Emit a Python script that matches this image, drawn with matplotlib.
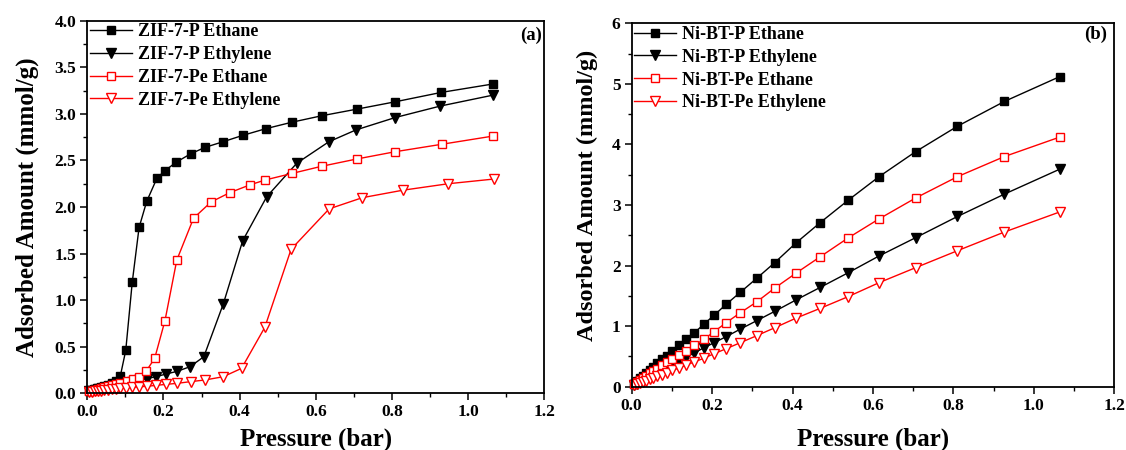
import numpy as np
import matplotlib
matplotlib.use("Agg")
import matplotlib.pyplot as plt
from matplotlib.ticker import MultipleLocator, FormatStrFormatter

plt.rcParams["font.family"] = ["Liberation Serif", "DejaVu Serif"]
plt.rcParams["font.weight"] = "bold"

# ---- (a) ZIF-7 isotherms ------------------------------------------------
zp_eth_x = [0.005, 0.012, 0.02, 0.028, 0.036, 0.045, 0.054, 0.064, 0.075, 0.087,
            0.101, 0.118, 0.136, 0.156, 0.183, 0.204, 0.233, 0.271, 0.309, 0.356,
            0.409, 0.468, 0.537, 0.616, 0.707, 0.809, 0.929, 1.064]
zp_eth_y = [0.03, 0.04, 0.05, 0.06, 0.07, 0.08, 0.09, 0.11, 0.13, 0.19,
            0.46, 1.19, 1.78, 2.06, 2.31, 2.39, 2.48, 2.57, 2.64, 2.70,
            2.77, 2.84, 2.91, 2.98, 3.05, 3.13, 3.23, 3.32]

zp_ene_x = [0.005, 0.012, 0.02, 0.028, 0.036, 0.045, 0.054, 0.064, 0.075, 0.087,
            0.101, 0.118, 0.136, 0.156, 0.180, 0.207, 0.236, 0.270, 0.306, 0.357,
            0.408, 0.471, 0.550, 0.634, 0.705, 0.808, 0.927, 1.064]
zp_ene_y = [0.02, 0.03, 0.035, 0.045, 0.05, 0.06, 0.07, 0.08, 0.09, 0.10,
            0.11, 0.125, 0.14, 0.157, 0.178, 0.207, 0.236, 0.286, 0.393, 0.959,
            1.638, 2.11, 2.47, 2.70, 2.827, 2.96, 3.084, 3.20]

zpe_eth_x = [0.005, 0.012, 0.02, 0.028, 0.036, 0.045, 0.054, 0.064, 0.075, 0.087,
             0.103, 0.121, 0.137, 0.155, 0.177, 0.204, 0.235, 0.279, 0.325, 0.374,
             0.426, 0.467, 0.537, 0.615, 0.707, 0.809, 0.930, 1.066]
zpe_eth_y = [0.02, 0.03, 0.04, 0.05, 0.06, 0.07, 0.08, 0.09, 0.10, 0.115,
             0.135, 0.15, 0.18, 0.24, 0.376, 0.78, 1.43, 1.88, 2.054, 2.154,
             2.236, 2.29, 2.36, 2.437, 2.515, 2.594, 2.673, 2.762]

zpe_ene_x = [0.005, 0.012, 0.02, 0.028, 0.036, 0.045, 0.054, 0.064, 0.075, 0.087,
             0.101, 0.118, 0.136, 0.156, 0.180, 0.207, 0.236, 0.271, 0.309, 0.357,
             0.405, 0.466, 0.535, 0.635, 0.722, 0.828, 0.948, 1.067]
zpe_ene_y = [0.01, 0.015, 0.02, 0.025, 0.03, 0.035, 0.04, 0.045, 0.05, 0.055,
             0.06, 0.065, 0.07, 0.075, 0.085, 0.096, 0.107, 0.125, 0.143, 0.178,
             0.268, 0.708, 1.546, 1.98, 2.10, 2.18, 2.25, 2.30]

# ---- (b) Ni-BT isotherms ------------------------------------------------
nb_x = [0.005, 0.012, 0.02, 0.028, 0.036, 0.045, 0.054, 0.064, 0.075, 0.087,
        0.101, 0.118, 0.136, 0.156, 0.179, 0.205, 0.235, 0.270, 0.311, 0.356,
        0.408, 0.469, 0.538, 0.615, 0.706, 0.810, 0.927, 1.064]
nbp_eth_y = [0.05, 0.09, 0.14, 0.18, 0.23, 0.28, 0.33, 0.39, 0.45, 0.51,
             0.59, 0.683, 0.78, 0.89, 1.03, 1.18, 1.36, 1.558, 1.79, 2.05,
             2.37, 2.71, 3.077, 3.467, 3.88, 4.30, 4.71, 5.118]
nbp_ene_y = [0.03, 0.05, 0.08, 0.11, 0.14, 0.17, 0.20, 0.24, 0.28, 0.32,
             0.37, 0.43, 0.49, 0.56, 0.64, 0.727, 0.826, 0.95, 1.09, 1.245,
             1.43, 1.64, 1.88, 2.158, 2.46, 2.81, 3.18, 3.59]
nbpe_eth_y = [0.04, 0.07, 0.11, 0.14, 0.18, 0.22, 0.26, 0.30, 0.35, 0.40,
              0.46, 0.523, 0.59, 0.683, 0.78, 0.908, 1.057, 1.22, 1.40, 1.63,
              1.872, 2.146, 2.455, 2.77, 3.115, 3.467, 3.80, 4.12]
nbpe_ene_y = [0.02, 0.04, 0.06, 0.08, 0.10, 0.12, 0.145, 0.17, 0.20, 0.23,
              0.27, 0.31, 0.36, 0.408, 0.469, 0.545, 0.627, 0.726, 0.842, 0.974,
              1.13, 1.294, 1.486, 1.717, 1.965, 2.245, 2.554, 2.884]

RED = "#ff0000"
fig = plt.figure(figsize=(11.26, 4.5), dpi=100)
axa = fig.add_axes([0.0775, 0.126, 0.406, 0.828])
axb = fig.add_axes([0.561, 0.1407, 0.4286, 0.8076])


def draw(ax, series):
    for x, y, col, mk, filled, lab in series:
        ax.plot(x, y, color=col, lw=1.0, marker=mk, ms=6.5 if mk == "v" else 5.8,
                mfc=col if filled else "white", mec=col, mew=1.0, label=lab,
                clip_on=False)


draw(axa, [
    (zp_eth_x, zp_eth_y, "black", "s", True, "ZIF-7-P Ethane"),
    (zp_ene_x, zp_ene_y, "black", "v", True, "ZIF-7-P Ethylene"),
    (zpe_eth_x, zpe_eth_y, RED, "s", False, "ZIF-7-Pe Ethane"),
    (zpe_ene_x, zpe_ene_y, RED, "v", False, "ZIF-7-Pe Ethylene"),
])
draw(axb, [
    (nb_x, nbp_eth_y, "black", "s", True, "Ni-BT-P Ethane"),
    (nb_x, nbp_ene_y, "black", "v", True, "Ni-BT-P Ethylene"),
    (nb_x, nbpe_eth_y, RED, "s", False, "Ni-BT-Pe Ethane"),
    (nb_x, nbpe_ene_y, RED, "v", False, "Ni-BT-Pe Ethylene"),
])

axa.set_ylim(0, 4.0)
axa.yaxis.set_major_locator(MultipleLocator(0.5))
axa.yaxis.set_minor_locator(MultipleLocator(0.25))
axa.yaxis.set_major_formatter(FormatStrFormatter("%.1f"))
axb.set_ylim(0, 6)
axb.yaxis.set_major_locator(MultipleLocator(1))
axb.yaxis.set_minor_locator(MultipleLocator(0.5))

# per-panel: (tag, tag x, tag y, x-label pad, y-label pad, y-label size, y-label centre)
panel_opts = [
    (axa, "(a)", 0.995, 0.985, 5, 11, 18, 0.5),
    (axb, "(b)", 0.985, 0.993, 10, 10, 17.5, 0.527),
]
for ax, tag, tx, ty, xpad, ypad, ysz, yc in panel_opts:
    ax.set_xlim(0, 1.2)
    ax.xaxis.set_major_locator(MultipleLocator(0.2))
    ax.xaxis.set_minor_locator(MultipleLocator(0.1))
    ax.xaxis.set_major_formatter(FormatStrFormatter("%.1f"))
    ax.tick_params(which="major", direction="out", length=5, width=1.1,
                   labelsize=12.5, pad=3)
    ax.tick_params(which="minor", direction="out", length=3, width=1.0)
    for sp in ax.spines.values():
        sp.set_linewidth(1.3)
    ax.set_xlabel("Pressure (bar)", fontsize=18, fontweight="bold", labelpad=xpad)
    ax.set_ylabel("Adsorbed Amount (mmol/g)", fontsize=ysz, fontweight="bold",
                  labelpad=ypad)
    ax.yaxis.label.set_y(yc)
    ax.text(tx, ty, tag, transform=ax.transAxes, ha="right", va="top",
            fontsize=13.5, fontweight="bold")
    ax.legend(loc="upper left", frameon=False, borderaxespad=0.0,
              borderpad=0.15, handlelength=2.3, handletextpad=0.35,
              labelspacing=0.32, prop={"weight": "bold", "size": 13})

fig.savefig("out.png", dpi=100)
